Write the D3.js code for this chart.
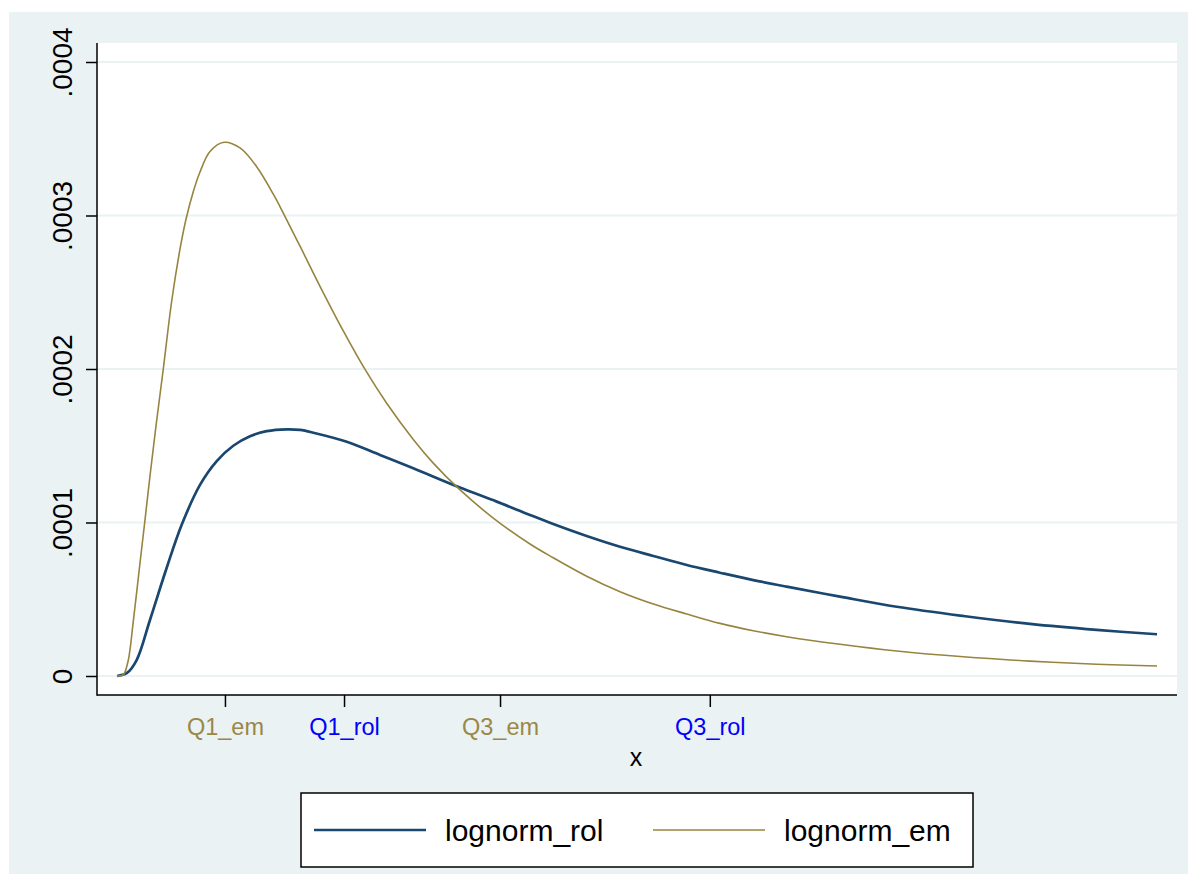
<!DOCTYPE html>
<html>
<head>
<meta charset="utf-8">
<script src="https://cdn.jsdelivr.net/npm/d3@7"></script>
<style>
  body { margin: 0; background: #fff; }
  svg text { font-family: "Liberation Sans", Arial, sans-serif; }
</style>
</head>
<body>
<svg id="chart" width="1194" height="877"></svg>
<script>
// x is in arbitrary units (0 = first point, 100 = last point)
const emPoints = [
  [0, 0], [0.48, 0.0000004], [0.67, 0.0000013], [1.09, 0.0000104], [1.57, 0.0000358],
  [2.21, 0.0000736], [2.69, 0.0001016], [3.17, 0.0001303], [3.75, 0.0001629],
  [4.45, 0.0002], [5.26, 0.0002443], [6.06, 0.0002782], [6.64, 0.0002977],
  [7.34, 0.0003156], [7.98, 0.0003283], [8.94, 0.0003417], [10.29, 0.0003477],
  [11.83, 0.000344], [13.43, 0.0003318], [15.03, 0.0003139], [15.99, 0.0003016],
  [17.6, 0.00028], [19.52, 0.0002539], [21.76, 0.0002248], [23.85, 0.0001997],
  [25.93, 0.0001777], [28.49, 0.0001541], [30.41, 0.0001387], [32.91, 0.0001217],
  [36.18, 0.0001029], [39.71, 0.000086], [41.95, 0.000077], [45.16, 0.000065],
  [48.37, 0.0000549], [51.57, 0.0000469], [54.78, 0.0000404], [57.98, 0.0000343],
  [61.18, 0.0000295], [64.39, 0.0000256], [69.52, 0.0000207], [74.97, 0.0000163],
  [81.38, 0.0000125], [87.79, 0.0000097], [94.2, 0.0000077], [100, 0.0000065]
];

const rolPoints = [
  [0, 0], [0.93, 0.0000018], [1.89, 0.0000104], [3.17, 0.0000365], [4.78, 0.0000705],
  [6.22, 0.0000985], [7.98, 0.0001245], [9.59, 0.00014], [11.18, 0.00015],
  [12.79, 0.0001562], [14.39, 0.0001595], [16.32, 0.0001607], [17.6, 0.0001603],
  [18.88, 0.0001585], [22.09, 0.0001526], [25.29, 0.000144], [28.49, 0.0001353],
  [32.91, 0.0001229], [36.51, 0.0001136], [39.71, 0.0001049], [41.95, 0.000099],
  [45.16, 0.0000912], [48.37, 0.0000842], [51.57, 0.0000782], [54.78, 0.0000723],
  [57.98, 0.0000673], [61.18, 0.0000625], [64.39, 0.0000582], [69.52, 0.0000517],
  [74.97, 0.0000451], [81.38, 0.0000391], [87.79, 0.0000339], [94.2, 0.00003],
  [100, 0.0000272]
];

const yTicks = [0, 0.0001, 0.0002, 0.0003, 0.0004];
const xTickValues = [10.38, 21.83, 36.83, 57.0];
const xTickLabels = ["Q1_em", "Q1_rol", "Q3_em", "Q3_rol"];
const xTickColors = ["#9b8747", "#0000ff", "#9b8747", "#0000ff"];

const series = [
  { label: "lognorm_rol", points: rolPoints, color: "#1a476f", width: 2.7 },
  { label: "lognorm_em", points: emPoints, color: "#97843f", width: 1.6 }
];

const svg = d3.select("#chart");
const plot = { left: 97, right: 1177, top: 43, bottom: 695 };

// graph region background
svg.append("rect")
  .attr("x", 9).attr("y", 12)
  .attr("width", 1179).attr("height", 862)
  .attr("fill", "#eaf2f3");

svg.append("rect")
  .attr("x", plot.left).attr("y", plot.top)
  .attr("width", plot.right - plot.left).attr("height", plot.bottom - plot.top)
  .attr("fill", "#fff");

const pad = 20 / 10.4;
const xScale = d3.scaleLinear()
  .domain([0 - pad, 100 + pad])
  .range([plot.left, plot.right]);

const yScale = d3.scaleLinear()
  .domain([0, 0.0004])
  .range([676, 62]);

// gridlines
svg.append("g")
  .selectAll("line")
  .data(yTicks)
  .join("line")
  .attr("x1", plot.left)
  .attr("x2", plot.right)
  .attr("y1", d => yScale(d))
  .attr("y2", d => yScale(d))
  .attr("stroke", "#eaf2f3")
  .attr("stroke-width", 2);

// y axis
const yFmt = d => d === 0 ? "0" : d3.format(".4f")(d).replace(/^0/, "");
const yAxis = svg.append("g")
  .attr("transform", `translate(${plot.left},0)`)
  .call(d3.axisLeft(yScale).tickValues(yTicks).tickFormat(yFmt).tickSize(11).tickPadding(0));
yAxis.select(".domain").remove();
yAxis.selectAll(".tick line").attr("stroke", "#000").attr("stroke-width", 1.5);
yAxis.selectAll(".tick text")
  .attr("x", null).attr("dy", null)
  .attr("transform", "translate(-25,0) rotate(-90)")
  .attr("text-anchor", "middle")
  .attr("font-size", 28)
  .attr("fill", "#000");

// x axis
const xAxis = svg.append("g")
  .attr("transform", `translate(0,${plot.bottom})`)
  .call(d3.axisBottom(xScale).tickValues(xTickValues)
    .tickFormat((d, i) => xTickLabels[i]).tickSize(12).tickPadding(0));
xAxis.select(".domain").remove();
xAxis.selectAll(".tick line").attr("stroke", "#000").attr("stroke-width", 1.5);
xAxis.selectAll(".tick text")
  .attr("dy", null)
  .attr("y", 40)
  .attr("font-size", 23.5)
  .attr("fill", (d, i) => xTickColors[i]);

// axis lines
svg.append("line")
  .attr("x1", plot.left).attr("x2", plot.left)
  .attr("y1", plot.top).attr("y2", plot.bottom + 0.75)
  .attr("stroke", "#000").attr("stroke-width", 1.5);
svg.append("line")
  .attr("x1", plot.left).attr("x2", plot.right)
  .attr("y1", plot.bottom).attr("y2", plot.bottom)
  .attr("stroke", "#000").attr("stroke-width", 1.5);

svg.append("text")
  .attr("x", 636).attr("y", 766)
  .attr("text-anchor", "middle")
  .attr("font-size", 25)
  .text("x");

// curves
const line = d3.line()
  .x(d => xScale(d[0]))
  .y(d => yScale(d[1]))
  .curve(d3.curveCatmullRom.alpha(0.5));

series.forEach(s => {
  svg.append("path")
    .datum(s.points)
    .attr("fill", "none")
    .attr("stroke", s.color)
    .attr("stroke-width", s.width)
    .attr("stroke-linejoin", "round")
    .attr("d", line);
});

// legend
const legend = svg.append("g");
legend.append("rect")
  .attr("x", 301).attr("y", 793)
  .attr("width", 672).attr("height", 74)
  .attr("fill", "#fff")
  .attr("stroke", "#000")
  .attr("stroke-width", 1.5);

series.forEach((s, i) => {
  const ox = 314 + i * 339;
  legend.append("line")
    .attr("x1", ox).attr("x2", ox + 112)
    .attr("y1", 830).attr("y2", 830)
    .attr("stroke", s.color)
    .attr("stroke-width", s.width);
  legend.append("text")
    .attr("x", ox + 131).attr("y", 841)
    .attr("font-size", 30)
    .text(s.label);
});
</script>
</body>
</html>
